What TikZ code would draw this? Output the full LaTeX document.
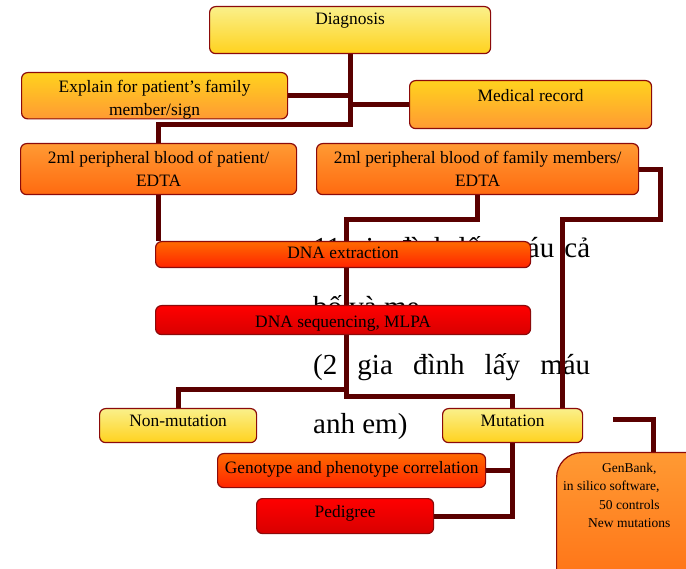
\documentclass[tikz,border=0pt]{standalone}
\usepackage{fontspec}
\setmainfont{Liberation Serif}
\pgfdeclarelayer{bg}
\pgfsetlayers{bg,main}
\definecolor{bordc}{HTML}{8B0A0A}
\definecolor{connc}{HTML}{5A0000}
\definecolor{ylt}{HTML}{FAF08A}
\definecolor{ydk}{HTML}{FFD21E}
\definecolor{ora}{HTML}{FF9A33}
\definecolor{orb}{HTML}{FF6A10}
\definecolor{rda}{HTML}{FF6A00}
\definecolor{rdb}{HTML}{FF2400}
\definecolor{rdc}{HTML}{FF0000}
\definecolor{rdd}{HTML}{D80000}
\tikzset{
  box/.style={draw=bordc, line width=1.2pt, rounded corners=6pt, inner sep=0pt,
    anchor=north west, align=center, font=\fontsize{17.4}{22.5}\selectfont},
  yelbox/.style={box, top color=ylt, bottom color=ydk},
  yobox/.style={box, top color=ydk, bottom color=ora},
  orbox/.style={box, top color=ora, bottom color=orb},
  redobox/.style={box, top color=rda, bottom color=rdb},
  redbox/.style={box, top color=rdc, bottom color=rdd},
  conn/.style={draw=connc, line width=5pt, line join=miter},
  vtext/.style={inner sep=0pt, anchor=base west, font=\fontsize{29}{34}\selectfont},
}
\begin{document}
\begin{tikzpicture}[x=1pt,y=-1pt]
\clip (0,0) rectangle (686,569);
% boxes
\node[yelbox, minimum width=281pt, minimum height=47pt, text height=18pt, text depth=29pt] (diag) at (209,6) {Diagnosis};
\node[yobox, minimum width=266pt, minimum height=44pt] (expl) at (21,72) {\rule{0pt}{20pt}Explain for patient’s family\\member/sign};
\node[yobox, minimum width=242pt, minimum height=48pt, text height=21pt, text depth=27pt] (med) at (409,80) {Medical record};
\node[orbox, minimum width=276pt, minimum height=51pt] (bp) at (20,143) {2ml peripheral blood of patient/\\EDTA};
\node[orbox, minimum width=322pt, minimum height=51pt] (bf) at (316,143) {2ml peripheral blood of family members/\\EDTA};
\node[redobox, minimum width=375pt, minimum height=26pt, text height=17pt, text depth=9pt] (dnaext) at (155,241) {DNA extraction};
\node[redbox, minimum width=375pt, minimum height=29pt, text height=22pt, text depth=7pt] (dnaseq) at (155,305) {DNA sequencing, MLPA};
\node[yelbox, minimum width=157pt, minimum height=34pt, text height=18pt, text depth=16pt] (nonmut) at (99,408) {Non-mutation};
\node[yelbox, minimum width=140pt, minimum height=34pt, text height=18pt, text depth=16pt] (mut) at (442,408) {Mutation};
\node[redobox, minimum width=268pt, minimum height=34pt, text height=20pt, text depth=14pt] (geno) at (217,453) {Genotype and phenotype correlation};
\node[redbox, minimum width=177pt, minimum height=35pt, text height=19pt, text depth=16pt] (ped) at (256,498) {Pedigree};
\node[orbox, rounded corners=25pt, minimum width=190pt, minimum height=160pt] (gb) at (556,452) {};
\node[inner sep=0pt, anchor=north west, align=left, font=\fontsize{13.5}{18.3}\selectfont] (gbtxt) at (563,463)
  {\hspace*{39pt}GenBank,\\in silico software,\\\hspace*{36pt}50 controls\\\hspace*{25pt}New mutations};
% background text and connectors
\begin{pgfonlayer}{bg}
\node[vtext] (v1) at (313,258) {\hbox to 277pt{11\hfill gia\hfill đình\hfill lấy\hfill máu\hfill cả}};
\node[vtext] (v2) at (313,316.5) {bố và mẹ};
\node[vtext] (v3) at (313,375) {\hbox to 277pt{(2\hfill gia\hfill đình\hfill lấy\hfill máu}};
\node[vtext] (v4) at (313,433.5) {anh em)};
\coordinate (j1) at (349,125);
\coordinate (t1) at (346,220);
\coordinate (t2) at (346,390);
\coordinate (t3) at (346,397);
\coordinate (r1) at (660,220);
\coordinate (r2) at (562,220);
\coordinate (s1) at (613,420);
\coordinate (s2) at (653,452);
\draw[conn] (diag.south) |- (expl.east);
\draw[conn] (diag.south) |- (med.west);
\draw[conn] (diag.south) -- (diag.south |- j1) -| (bp.north);
\draw[conn] (bp.south) -- (bp.south |- dnaext.north);
\draw[conn] (bf.south) |- (t1) -- (t3) -| (mut.north);
\draw[conn] (t2) -| (nonmut.north);
\draw[conn] (bf.east) -| (r1) -- (r2) -- (r2 |- mut.north);
\draw[conn] (mut.south) |- (geno.east);
\draw[conn] (mut.south) |- (ped.east);
\draw[conn] (s1) -| (s2 |- gb.north);
\end{pgfonlayer}
\end{tikzpicture}
\end{document}
